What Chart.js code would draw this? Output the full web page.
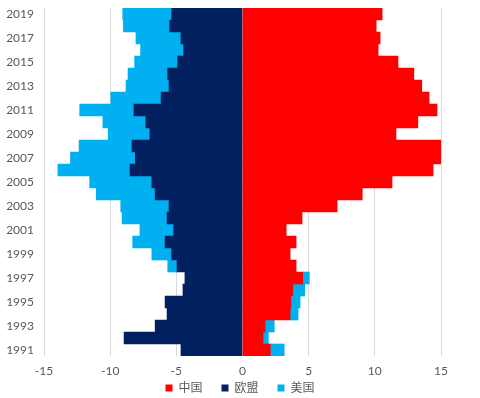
<!DOCTYPE html>
<html>
<head>
<meta charset="utf-8">
<script src="https://cdn.jsdelivr.net/npm/chart.js@4/dist/chart.umd.min.js"></script>
<style>
html,body{margin:0;padding:0;background:#fff;}
#wrap{width:480px;height:398px;position:relative;}
</style>
</head>
<body>
<div id="wrap"><canvas id="c" width="480" height="398"></canvas></div>
<script>
const years = [1991,1992,1993,1994,1995,1996,1997,1998,1999,2000,2001,2002,2003,2004,2005,2006,2007,2008,2009,2010,2011,2012,2013,2014,2015,2016,2017,2018,2019];
const china = [2.1,1.55,1.7,3.6,3.65,3.8,4.55,4.05,3.6,4.05,3.3,4.5,7.15,9.05,11.3,14.4,15.0,15.2,11.6,13.25,14.7,14.1,13.55,12.95,11.75,10.25,10.4,10.1,10.55];
const eu = [-4.65,-8.95,-6.6,-5.7,-5.85,-4.5,-4.35,-4.95,-5.35,-5.85,-5.2,-5.7,-5.55,-6.6,-6.85,-8.5,-8.1,-8.35,-7.0,-7.3,-8.2,-6.15,-5.55,-5.65,-4.9,-4.45,-4.65,-5.5,-5.35];
const us = [1.05,0.4,0.7,0.6,0.7,0.9,0.5,-0.7,-1.5,-2.45,-2.55,-3.4,-3.65,-4.45,-4.7,-5.45,-4.9,-4.0,-3.15,-3.25,-4.1,-3.8,-3.25,-3.0,-3.25,-3.25,-3.4,-3.5,-3.7];
const seriesNames = ['中国','欧盟','美国'];
const xTicks = [-15,-10,-5,0,5,10,15];

const FONT = "Lato, 'Noto Sans CJK SC', sans-serif";
const TXT = '#595959';

const legendCenter = {
  id: 'legendCenter',
  afterLayout(chart) {
    const lg = chart.legend;
    if (lg) { lg.left = 0; lg.right = chart.width; lg.width = chart.width; }
  }
};

new Chart(document.getElementById('c'), {
  type: 'bar',
  data: {
    labels: years.map(String),
    datasets: [
      {label: seriesNames[0], data: china, backgroundColor: '#FF0000'},
      {label: seriesNames[1], data: eu, backgroundColor: '#002060'},
      {label: seriesNames[2], data: us, backgroundColor: '#00B0F0'}
    ]
  },
  plugins: [legendCenter],
  options: {
    indexAxis: 'y',
    responsive: false,
    animation: false,
    maintainAspectRatio: false,
    datasets: {bar: {barPercentage: 1.0, categoryPercentage: 1.0, borderWidth: 0}},
    layout: {padding: {left: 0, right: 39, top: 8, bottom: 0}},
    scales: {
      x: {
        stacked: true,
        min: -15, max: 15,
        afterBuildTicks: (s) => { s.ticks = xTicks.map(v => ({value: v})); },
        afterFit: (s) => { s.height = 22; },
        grid: {color: '#d9d9d9', drawTicks: false, lineWidth: 1},
        border: {display: false},
        ticks: {color: TXT, font: {family: FONT, size: 12}, padding: 8}
      },
      y: {
        stacked: true,
        reverse: true,
        grid: {display: false, drawTicks: false},
        border: {display: false},
        afterFit: (s) => { s.width = 44; s.paddingTop = 0; s.paddingBottom = 0; },
        ticks: {
          color: TXT, font: {family: FONT, size: 12}, padding: 10,
          autoSkip: false,
          callback: function(v, i) { return i % 2 === 0 ? years[i] : ''; }
        }
      }
    },
    plugins: {
      legend: {
        position: 'bottom',
        maxHeight: 20,
        labels: {
          boxWidth: 7, boxHeight: 7, padding: 4,
          color: TXT, font: {family: FONT, size: 12},
          generateLabels: function(chart) {
            const items = Chart.defaults.plugins.legend.labels.generateLabels(chart);
            items.forEach((it, i) => { if (i < items.length - 1) it.text = it.text + '\u2003\u2002'; });
            return items;
          }
        }
      },
      tooltip: {enabled: false}
    }
  }
});
</script>
</body>
</html>
